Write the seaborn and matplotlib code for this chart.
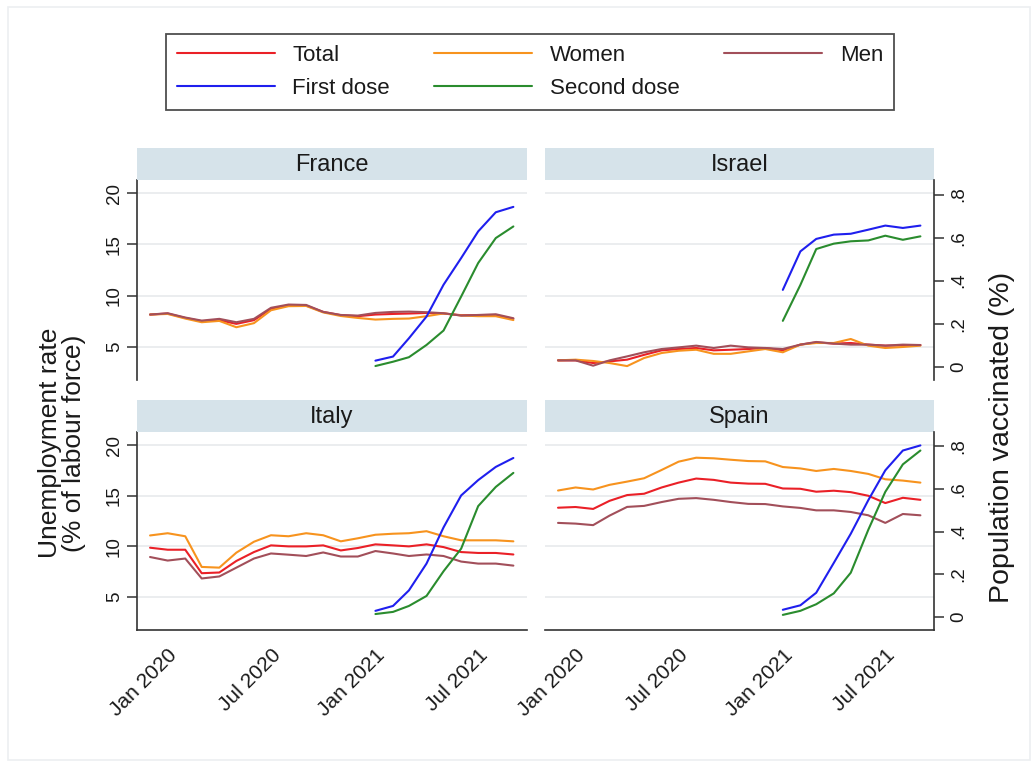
"""Unemployment rate and vaccination coverage, four countries."""

import matplotlib.pyplot as plt
import pandas as pd
import seaborn as sns
from matplotlib.lines import Line2D
from matplotlib.patches import Rectangle

# Monthly dates (Dec 2019 - Sep 2021) and vaccination dates (Jan 2021 - Sep 2021)
months = pd.date_range("2019-12-01", periods=22, freq="MS")
vacc_months = pd.date_range("2021-01-01", periods=9, freq="MS")

countries = ["France", "Israel", "Italy", "Spain"]

# Unemployment rate (% of labour force)
france_total = [8.14, 8.24, 7.81, 7.49, 7.59, 7.23, 7.59, 8.70, 9.05, 9.02, 8.40,
                8.08, 7.98, 8.14, 8.20, 8.24, 8.30, 8.24, 8.08, 8.08, 8.08, 7.72]
france_women = [8.14, 8.20, 7.75, 7.39, 7.52, 6.90, 7.30, 8.56, 8.96, 8.98, 8.35,
                8.00, 7.81, 7.65, 7.72, 7.75, 7.98, 8.25, 8.05, 7.98, 7.98, 7.60]
france_men = [8.14, 8.27, 7.85, 7.55, 7.72, 7.39, 7.72, 8.80, 9.12, 9.08, 8.40,
              8.10, 8.04, 8.30, 8.40, 8.43, 8.37, 8.27, 8.04, 8.10, 8.17, 7.78]

israel_total = [3.66, 3.66, 3.40, 3.56, 3.73, 4.20, 4.64, 4.77, 4.87, 4.64, 4.70,
                4.77, 4.87, 4.64, 5.20, 5.42, 5.30, 5.36, 5.20, 5.10, 5.13, 5.16]
israel_women = [3.66, 3.73, 3.60, 3.40, 3.10, 3.89, 4.38, 4.60, 4.70, 4.30, 4.30,
                4.54, 4.77, 4.45, 5.20, 5.36, 5.36, 5.75, 5.10, 4.87, 4.97, 5.10]
israel_men = [3.66, 3.66, 3.14, 3.66, 4.05, 4.45, 4.77, 4.93, 5.10, 4.87, 5.10,
              4.93, 4.87, 4.77, 5.20, 5.46, 5.30, 5.20, 5.20, 5.10, 5.20, 5.16]

italy_total = [9.87, 9.67, 9.67, 7.35, 7.42, 8.56, 9.44, 10.10, 10.00, 10.00, 10.10,
               9.60, 9.84, 10.20, 10.10, 10.00, 10.20, 9.93, 9.44, 9.35, 9.35, 9.20]
italy_women = [11.08, 11.30, 11.00, 7.97, 7.90, 9.38, 10.46, 11.10, 11.00, 11.30, 11.10,
               10.50, 10.80, 11.15, 11.25, 11.30, 11.50, 11.00, 10.60, 10.60, 10.60, 10.50]
italy_men = [8.95, 8.60, 8.80, 6.83, 7.03, 7.90, 8.80, 9.30, 9.18, 9.05, 9.40,
             9.00, 9.00, 9.54, 9.30, 9.05, 9.20, 9.05, 8.50, 8.30, 8.30, 8.10]

spain_total = [13.82, 13.89, 13.70, 14.50, 15.07, 15.20, 15.82, 16.30, 16.70, 16.57, 16.30,
               16.20, 16.18, 15.72, 15.69, 15.40, 15.50, 15.36, 15.00, 14.28, 14.80, 14.60]
spain_women = [15.52, 15.82, 15.62, 16.08, 16.40, 16.73, 17.55, 18.37, 18.76, 18.70, 18.56,
               18.43, 18.40, 17.84, 17.70, 17.45, 17.65, 17.45, 17.16, 16.63, 16.50, 16.30]
spain_men = [12.32, 12.25, 12.10, 13.04, 13.90, 14.00, 14.38, 14.70, 14.77, 14.60, 14.38,
             14.20, 14.18, 13.95, 13.80, 13.56, 13.56, 13.40, 13.07, 12.32, 13.20, 13.07]

# Share of population vaccinated
france_first = [0.028, 0.047, 0.132, 0.233, 0.381, 0.505, 0.629, 0.718, 0.743]
france_second = [0.003, 0.023, 0.044, 0.101, 0.168, 0.326, 0.482, 0.598, 0.652]
israel_first = [0.357, 0.536, 0.594, 0.614, 0.618, 0.637, 0.656, 0.645, 0.656]
israel_second = [0.213, 0.380, 0.547, 0.572, 0.583, 0.587, 0.609, 0.590, 0.606]
italy_first = [0.028, 0.051, 0.124, 0.250, 0.420, 0.570, 0.642, 0.704, 0.746]
italy_second = [0.013, 0.023, 0.051, 0.098, 0.214, 0.320, 0.520, 0.610, 0.676]
spain_first = [0.033, 0.054, 0.113, 0.253, 0.390, 0.548, 0.688, 0.781, 0.805]
spain_second = [0.009, 0.028, 0.059, 0.110, 0.207, 0.409, 0.587, 0.716, 0.781]

unemp = {
    "France": (france_total, france_women, france_men),
    "Israel": (israel_total, israel_women, israel_men),
    "Italy": (italy_total, italy_women, italy_men),
    "Spain": (spain_total, spain_women, spain_men),
}
vacc = {
    "France": (france_first, france_second),
    "Israel": (israel_first, israel_second),
    "Italy": (italy_first, italy_second),
    "Spain": (spain_first, spain_second),
}

unemp_series = ["Total", "Women", "Men"]
vacc_series = ["First dose", "Second dose"]
palette = {
    "Total": "#ea2027",
    "Women": "#f7931e",
    "Men": "#a24f5a",
    "First dose": "#1f1fee",
    "Second dose": "#2a8c2e",
}

left_ticks = [5, 10, 15, 20]
right_ticks = [0, 0.2, 0.4, 0.6, 0.8]
right_labels = ["0", ".2", ".4", ".6", ".8"]
x_ticks = pd.to_datetime(["2020-01-01", "2020-07-01", "2021-01-01", "2021-07-01"])
x_labels = ["Jan 2020", "Jul 2020", "Jan 2021", "Jul 2021"]

sns.set_style("white")
plt.rcParams["font.family"] = ["Liberation Sans", "DejaVu Sans"]

W, H = 1036, 763
fig = plt.figure(figsize=(W / 100, H / 100), dpi=100)

# Outer frame of the graph region
fig.patches.append(
    Rectangle((8 / W, 3 / H), 1022 / W, 753 / H, transform=fig.transFigure,
              fill=False, edgecolor="#eceff1", linewidth=1.2)
)

# Panel boxes in pixels: (left, top of plot, width, height)
panel_px = {
    "France": (137, 180, 390, 200),
    "Israel": (545, 180, 389, 200),
    "Italy": (137, 432, 390, 198),
    "Spain": (545, 432, 389, 198),
}
strip_h = 32
spine_color = "#333333"
text_color = "#1a1a1a"

for i, country in enumerate(countries):
    left_col = i % 2 == 0
    bottom_row = i >= 2
    px, py, pw, ph = panel_px[country]

    ax = fig.add_axes([px / W, 1 - (py + ph) / H, pw / W, ph / H])
    strip = fig.add_axes([px / W, 1 - py / H, pw / W, strip_h / H])
    strip.set_facecolor("#d6e3ea")
    strip.set_xticks([])
    strip.set_yticks([])
    for s in strip.spines.values():
        s.set_visible(False)
    strip.text(0.5, 0.48, country, ha="center", va="center", fontsize=17,
               color=text_color, transform=strip.transAxes)

    # Unemployment series (left axis)
    total, women, men = unemp[country]
    unemp_df = pd.DataFrame({
        "date": list(months) * 3,
        "value": total + women + men,
        "series": [s for s in unemp_series for _ in range(len(months))],
    })
    sns.lineplot(data=unemp_df, x="date", y="value", hue="series",
                 hue_order=unemp_series, palette=palette, linewidth=1.5,
                 errorbar=None, legend=False, ax=ax)

    # Vaccination series (right axis)
    ax2 = ax.twinx()
    first, second = vacc[country]
    vacc_df = pd.DataFrame({
        "date": list(vacc_months) * 2,
        "value": first + second,
        "series": [s for s in vacc_series for _ in range(len(vacc_months))],
    })
    sns.lineplot(data=vacc_df, x="date", y="value", hue="series",
                 hue_order=vacc_series, palette=palette, linewidth=1.5,
                 errorbar=None, legend=False, ax=ax2)

    ax.set_xlim(pd.Timestamp("2019-11-08"), pd.Timestamp("2021-09-25"))
    ax.set_ylim(1.74, 21.3)
    ax2.set_ylim(-0.062, 0.868)
    ax.set_xlabel("")
    ax.set_ylabel("")
    ax2.set_ylabel("")

    # Grid from the left axis
    ax.set_yticks(left_ticks)
    ax.yaxis.grid(True, color="#e9ecee", linewidth=1.3)
    ax.set_axisbelow(True)

    for s in ["top", "right"]:
        ax.spines[s].set_visible(False)
    for s in ["top", "left", "bottom"]:
        ax2.spines[s].set_visible(False)

    if left_col:
        ax.spines["left"].set_color(spine_color)
        ax.spines["left"].set_linewidth(1.2)
        ax.set_yticklabels([str(t) for t in left_ticks], rotation=90, va="center",
                           fontsize=13.5, color=text_color)
        ax.tick_params(axis="y", direction="out", length=7, width=1.1,
                       color=spine_color, pad=3)
        ax2.spines["right"].set_visible(False)
        ax2.set_yticks([])
    else:
        ax.spines["left"].set_visible(False)
        ax.tick_params(axis="y", left=False, labelleft=False)
        ax2.spines["right"].set_color(spine_color)
        ax2.spines["right"].set_linewidth(1.2)
        ax2.set_yticks(right_ticks)
        ax2.set_yticklabels(right_labels, rotation=90, va="center",
                            fontsize=13.5, color=text_color)
        ax2.tick_params(axis="y", direction="out", length=7, width=1.1,
                        color=spine_color, pad=5)

    if bottom_row:
        ax.spines["bottom"].set_color(spine_color)
        ax.spines["bottom"].set_linewidth(1.2)
        ax.set_xticks(x_ticks)
        ax.set_xticklabels(x_labels, rotation=45, ha="right",
                           rotation_mode="anchor", fontsize=15, color=text_color)
        ax.tick_params(axis="x", direction="out", length=7, width=1.1,
                       color=spine_color, pad=4)
    else:
        ax.spines["bottom"].set_visible(False)
        ax.set_xticks(x_ticks)
        ax.tick_params(axis="x", bottom=False, labelbottom=False)

# Axis titles
fig.text(62 / W, 1 - 443 / H, "Unemployment rate\n(% of labour force)", rotation=90,
         ha="center", va="center", fontsize=19, linespacing=0.95, color=text_color)
fig.text(1002 / W, 1 - 437 / H, "Population vaccinated (%)", rotation=90,
         ha="center", va="center", fontsize=20.5, color=text_color)

# Legend
legend_order = ["Total", "First dose", "Women", "Second dose", "Men"]
handles = [Line2D([0], [0], color=palette[k], linewidth=1.5) for k in legend_order]
leg = fig.legend(
    handles, legend_order, ncol=3, loc="center",
    bbox_to_anchor=(530 / W, 1 - 72 / H), fontsize=16,
    frameon=True, fancybox=False, edgecolor="#222222",
    handlelength=4.4, handletextpad=0.8, columnspacing=2.0,
    labelspacing=0.55, borderpad=0.5,
)
leg.get_frame().set_linewidth(1.3)
for t in leg.get_texts():
    t.set_color(text_color)

fig.savefig("out.png", dpi=100)
plt.close(fig)
